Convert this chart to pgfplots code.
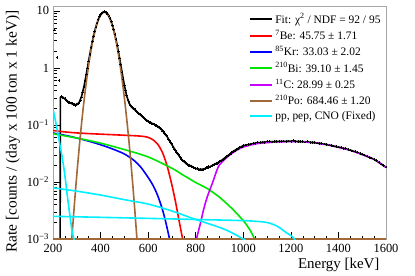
\documentclass[border=0pt]{standalone}
\usepackage{fontspec}
\setmainfont{Liberation Serif}
\usepackage{pgfplots}
\pgfplotsset{compat=1.18}
\definecolor{cRed}{RGB}{255,0,0}
\definecolor{cBlue}{RGB}{0,0,255}
\definecolor{cGreen}{RGB}{0,230,0}
\definecolor{cMag}{RGB}{200,0,255}
\definecolor{cBrown}{RGB}{160,105,55}
\definecolor{cCyan}{RGB}{0,240,255}
\begin{document}
\begin{tikzpicture}
\useasboundingbox (-53bp,-37bp) rectangle (362bp,239bp);
\begin{axis}[
  scale only axis, width=333bp, height=233bp,
  ymode=log, xmin=200, xmax=1600, ymin=0.001, ymax=12.2,
  xtick={200,400,...,1600}, minor x tick num=3,
  ytick={0.001,0.01,0.1,1,10},
  yticklabels={10\textsuperscript{−3},10\textsuperscript{−2},10\textsuperscript{−1},1,10},
  minor ytick={0.002,0.003,0.004,0.005,0.006,0.007,0.008,0.009,0.02,0.03,0.04,0.05,0.06,0.07,0.08,0.09,0.2,0.3,0.4,0.5,0.6,0.7,0.8,0.9,2,3,4,5,6,7,8,9},
  tick align=inside, xtick pos=lower, ytick pos=left,
  major tick length=7bp, minor tick length=3.5bp,
  tick style={black, line width=0.5bp},
  axis line style={gray!70, line width=0.8bp},
  /pgf/number format/assume math mode=true,
  /pgf/number format/set thousands separator={},
  ticklabel style={font=\fontsize{12.5}{14}\selectfont},
  xticklabel style={yshift=-1.5bp},
  yticklabel style={xshift=-0.5bp},
  legend style={at={(rel axis cs:0.58,0.985)}, anchor=north west, draw=none, fill=none,
    font=\fontsize{11.5}{13}\selectfont, row sep=1.2bp, legend cell align=left},
  legend image code/.code={\draw[#1, line width=2bp] (0bp,0bp) -- (22bp,0bp);},
  every axis plot/.append style={line join=round},
]
% data points
\addplot[black, only marks, mark=+, mark size=1.3bp, line width=0.6bp, forget plot] coordinates {
(207,4.65)(216,1.51)(226,0.60)(235,0.32)(240,0.305)(245,0.295)(250,0.29)(255,0.276)(260,0.265)(265,0.25)
(270,0.246)(275,0.243)(280,0.235)(285,0.228)(290,0.23)(295,0.222)(300,0.228)(305,0.232)(310,0.25)(315,0.27)
(320,0.31)(325,0.38)(330,0.47)(335,0.6)(340,0.78)(345,1.0)(350,1.33)(355,1.72)(360,2.27)(365,2.9)
(370,3.6)(375,4.4)(380,5.2)(385,6.1)(390,7.0)(395,7.9)(400,8.55)(405,9.1)(410,9.6)(415,9.7)
(420,9.6)(425,9.3)(430,8.9)(435,8.2)(440,7.3)(445,6.5)(450,5.6)(455,4.75)(460,3.85)(465,3.15)
(470,2.5)(475,1.95)(480,1.5)(485,1.15)(490,0.85)(495,0.64)(500,0.5)(505,0.4)(510,0.33)(515,0.27)
(520,0.245)(525,0.225)(530,0.21)(535,0.2)(540,0.192)(545,0.185)(550,0.176)(555,0.165)(560,0.158)(565,0.153)
(570,0.146)(575,0.14)(580,0.136)(585,0.129)(590,0.125)(595,0.118)(600,0.116)(605,0.111)(610,0.11)(615,0.107)
(620,0.104)(625,0.103)(630,0.099)(635,0.098)(640,0.094)(645,0.092)(650,0.087)(655,0.085)(660,0.079)(665,0.076)
(670,0.071)(675,0.066)(680,0.062)(685,0.057)(690,0.053)(695,0.049)(700,0.045)(705,0.041)(710,0.038)(715,0.036)
(720,0.033)(725,0.031)(730,0.029)(735,0.027)(740,0.025)(745,0.0238)(750,0.0232)(755,0.0218)(760,0.021)(765,0.0205)
(770,0.0196)(775,0.0194)(780,0.019)(785,0.0183)(790,0.018)(795,0.0175)(800,0.0171)(805,0.0172)(810,0.0166)(815,0.0161)
(820,0.0167)(825,0.0163)(830,0.0166)(835,0.017)(840,0.0171)(845,0.0178)(850,0.0177)(855,0.0185)(860,0.0184)(865,0.0192)
(870,0.0196)(875,0.02)(880,0.0207)(885,0.021)(890,0.0213)(895,0.0222)(900,0.0226)(905,0.0235)(910,0.0243)(915,0.025)
(920,0.026)(925,0.027)(930,0.028)(935,0.029)(940,0.0302)(945,0.0312)(950,0.0326)(955,0.0335)(960,0.0348)(965,0.036)
(970,0.037)(975,0.038)(980,0.039)(985,0.0398)(990,0.0412)(995,0.0418)(1000,0.0432)(1010,0.0442)(1020,0.0458)(1030,0.046)
(1040,0.0472)(1050,0.0478)(1060,0.049)(1070,0.0492)(1080,0.0505)(1090,0.0498)(1100,0.0507)(1110,0.0512)(1120,0.0505)(1130,0.0516)
(1140,0.0512)(1150,0.0518)(1160,0.0513)(1170,0.0522)(1180,0.0514)(1190,0.052)(1200,0.0516)(1210,0.053)(1220,0.0512)(1230,0.0518)
(1240,0.051)(1250,0.0512)(1260,0.0505)(1270,0.0508)(1280,0.0498)(1290,0.0496)(1300,0.049)(1310,0.0486)(1320,0.0475)(1330,0.047)
(1340,0.046)(1350,0.0455)(1360,0.0448)(1370,0.0435)(1380,0.0428)(1390,0.0415)(1400,0.041)(1410,0.0402)(1420,0.039)(1430,0.0385)
(1440,0.037)(1450,0.0365)(1460,0.0352)(1470,0.034)(1480,0.0335)(1490,0.0318)(1500,0.0308)(1510,0.0298)(1520,0.0285)(1530,0.0272)
(1540,0.0262)(1550,0.025)(1560,0.0238)(1570,0.0222)(1580,0.0208)(1590,0.0196)(1600,0.0182)
};
% total fit
\addplot[black, line width=1.6bp] coordinates {
(230,0.0009)(231,0.31)(240,0.31)(250,0.285)(260,0.262)(270,0.247)(280,0.235)(290,0.227)(300,0.226)(310,0.249)
(320,0.316)(330,0.467)(340,0.776)(350,1.342)(360,2.265)(370,3.59)(380,5.255)(390,7.04)(400,8.6)(410,9.54)
(420,9.64)(430,8.84)(440,7.375)(450,5.605)(460,3.895)(470,2.49)(480,1.486)(490,0.853)(500,0.498)(510,0.32)
(520,0.24)(530,0.207)(540,0.19)(550,0.175)(560,0.16)(580,0.135)(600,0.115)(620,0.105)(640,0.095)(660,0.08)
(680,0.062)(700,0.045)(720,0.033)(740,0.025)(760,0.021)(780,0.019)(800,0.0172)(820,0.0165)(840,0.0172)(860,0.0185)
(880,0.0205)(900,0.0225)(920,0.026)(940,0.030)(960,0.035)(980,0.039)(1000,0.0433)(1050,0.048)(1100,0.0505)(1150,0.0515)
(1200,0.0518)(1250,0.051)(1300,0.049)(1350,0.0455)(1400,0.041)(1450,0.0362)(1500,0.0305)(1550,0.025)(1600,0.0182)
};
\addlegendentry{Fit: χ\textsuperscript{2} / NDF = 92 / 95}
% 7Be
\addplot[cRed, line width=1.6bp, smooth] coordinates {
(200,0.080)(250,0.0755)(300,0.0725)(350,0.0705)(400,0.069)(450,0.0675)(500,0.066)(550,0.0645)(580,0.063)(600,0.0605)
(620,0.055)(640,0.046)(660,0.033)(680,0.019)(700,0.0088)(715,0.0045)(730,0.0021)(745,0.001)(750,0.0008)
};
\addlegendentry{\textsuperscript{7}Be: 45.75 ± 1.71}
% 85Kr
\addplot[cBlue, line width=1.6bp, smooth] coordinates {
(200,0.072)(250,0.066)(300,0.059)(350,0.052)(400,0.045)(450,0.038)(500,0.031)(540,0.024)(570,0.018)(600,0.012)
(620,0.0088)(640,0.0058)(660,0.0033)(675,0.0019)(690,0.001)(695,0.0008)
};
\addlegendentry{\textsuperscript{85}Kr: 33.03 ± 2.02}
% 210Bi
\addplot[cGreen, line width=1.6bp, smooth] coordinates {
(200,0.07)(300,0.059)(400,0.048)(500,0.037)(600,0.0275)(700,0.0174)(750,0.013)(800,0.0098)(850,0.0076)(900,0.0054)
(950,0.0035)(1000,0.0021)(1030,0.0014)(1047,0.001)(1055,0.0008)
};
\addlegendentry{\textsuperscript{210}Bi: 39.10 ± 1.45}
% 11C
\addplot[cMag, line width=1.6bp, smooth] coordinates {
(798,0.0008)(803,0.001)(810,0.0013)(820,0.0019)(830,0.0029)(840,0.0042)(850,0.0057)(860,0.0074)(870,0.0095)(880,0.0125)
(890,0.0165)(900,0.02)(920,0.0245)(940,0.029)(960,0.0335)(980,0.0375)(1000,0.041)(1050,0.0465)(1100,0.049)(1150,0.0505)
(1200,0.051)(1250,0.0505)(1300,0.0485)(1350,0.045)(1400,0.0405)(1450,0.036)(1500,0.0302)(1550,0.0248)(1600,0.018)
};
\addlegendentry{\textsuperscript{11}C: 28.99 ± 0.25}
% 210Po
\addplot[cBrown, line width=1.6bp] coordinates {
(276,0.00066)(280,0.001136)(288,0.003187)(296,0.0084)(304,0.02078)(312,0.0483)(320,0.1056)(328,0.2165)(336,0.4176)(344,0.756)
(352,1.286)(360,2.055)(368,3.087)(376,4.349)(384,5.77)(392,7.17)(400,8.39)(408,9.21)(416,9.5)(424,9.21)
(432,8.39)(440,7.17)(448,5.77)(456,4.349)(464,3.087)(472,2.055)(480,1.286)(488,0.756)(496,0.4176)(504,0.2165)
(512,0.1056)(520,0.0483)(528,0.02078)(536,0.0084)(544,0.003187)(552,0.001136)(556,0.00066)
};
\addlegendentry{\textsuperscript{210}Po: 684.46 ± 1.20}
\addplot[cBrown, line width=1.6bp, forget plot] coordinates {(200,0.001)(1600,0.001)};
% pp, pep, CNO
\addplot[cCyan, line width=1.6bp, smooth] coordinates {
(200,0.19)(210,0.12)(220,0.073)(230,0.043)(240,0.025)(250,0.013)(260,0.0058)(270,0.0028)(280,0.0014)(288,0.001)(292,0.0008)
};
\addlegendentry{pp, pep, CNO (Fixed)}
\addplot[cCyan, line width=1.6bp, smooth, forget plot] coordinates {
(200,0.0079)(300,0.0069)(400,0.0059)(500,0.0049)(600,0.0041)(700,0.0031)(800,0.0022)(900,0.0016)(950,0.0013)(1000,0.001)(1010,0.00095)
};
\addplot[cCyan, line width=1.6bp, smooth, forget plot] coordinates {
(200,0.0025)(400,0.0024)(600,0.0023)(800,0.0022)(1000,0.0021)(1080,0.002)(1110,0.0019)(1140,0.0017)(1160,0.0015)(1180,0.0013)
(1200,0.00115)(1215,0.001)(1222,0.0009)
};
\end{axis}
\node[rotate=90, anchor=east, font=\fontsize{15.5}{17}\selectfont] at (-40bp,232bp) {Rate [counts / (day x 100 ton x 1 keV)]};
\node[anchor=east, font=\fontsize{15}{17}\selectfont] at (330bp,-26bp) {Energy [keV]};
\end{tikzpicture}
\end{document}
